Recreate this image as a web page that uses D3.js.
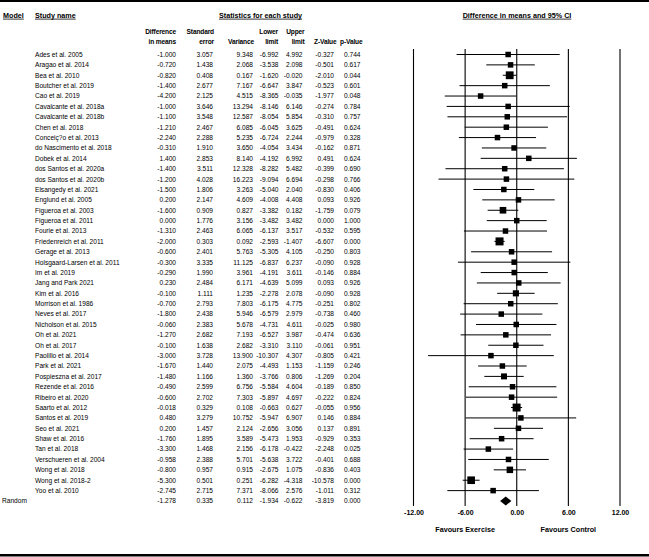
<!DOCTYPE html>
<html lang="en">
<head>
<meta charset="utf-8">
<script src="https://d3js.org/d3.v7.min.js"></script>
<style>
  body { margin: 0; background: #fff; }
  svg text { font-family: "Liberation Sans", Arial, sans-serif; fill: #000; }
  .cell { font-size: 6.6px; }
  .head { font-size: 7.2px; font-weight: bold; }
  .colhead { font-size: 6.6px; font-weight: bold; letter-spacing: -0.15px; }
</style>
</head>
<body>
<script>
// study rows, as printed in the table
const studyNames = [
  "Ades et al. 2005", "Aragao et al. 2014", "Bea et al. 2010", "Boutcher et al. 2019",
  "Cao et al. 2019", "Cavalcante et al. 2018a", "Cavalcante et al. 2018b", "Chen et al. 2018",
  "Conceiç?o et al. 2013", "do Nascimento et al. 2018", "Dobek et al. 2014", "dos Santos et al. 2020a",
  "dos Santos et al. 2020b", "Elsangedy et al. 2021", "Englund et al. 2005", "Figueroa et al. 2003",
  "Figueroa et al. 2011", "Fourie et al. 2013", "Friedenreich et al. 2011", "Gerage et al. 2013",
  "Holsgaard-Larsen et al. 2011", "Im et al. 2019", "Jang and Park 2021", "Kim et al. 2016",
  "Morrison et al. 1986", "Neves et al. 2017", "Nicholson et al. 2015", "Oh et al. 2021",
  "Oh et al. 2017", "Paolillo et al. 2014", "Park et al. 2021", "Pospieszna et al. 2017",
  "Rezende et al. 2016", "Ribeiro et al. 2020", "Saarto et al. 2012", "Santos et al. 2019",
  "Seo et al. 2021", "Shaw et al. 2016", "Tan et al. 2018", "Verschueren et al. 2004",
  "Wong et al. 2018", "Wong et al. 2018-2", "Yoo et al. 2010"
];
const diffs = [
  -1.000, -0.720, -0.820, -1.400, -4.200, -1.000, -1.100, -1.210, -2.240, -0.310, 1.400,
  -1.400, -1.200, -1.500, 0.200, -1.600, 0.000, -1.310, -2.000, -0.600, -0.300, -0.290,
  0.230, -0.100, -0.700, -1.800, -0.060, -1.270, -0.100, -3.000, -1.670, -1.480, -0.490,
  -0.600, -0.018, 0.480, 0.200, -1.760, -3.300, -0.958, -0.800, -5.300, -2.745
];
const stdErrs = [
  3.057, 1.438, 0.408, 2.677, 2.125, 3.646, 3.548, 2.467, 2.288, 1.910, 2.853,
  3.511, 4.028, 1.806, 2.147, 0.909, 1.776, 2.463, 0.303, 2.401, 3.335, 1.990,
  2.484, 1.111, 2.793, 2.438, 2.383, 2.682, 1.638, 3.728, 1.440, 1.166, 2.599,
  2.702, 0.329, 3.279, 1.457, 1.895, 1.468, 2.388, 0.957, 0.501, 2.715
];
const variances = [
  9.348, 2.068, 0.167, 7.167, 4.515, 13.294, 12.587, 6.085, 5.235, 3.650, 8.140,
  12.328, 16.223, 3.263, 4.609, 0.827, 3.156, 6.065, 0.092, 5.763, 11.125, 3.961,
  6.171, 1.235, 7.803, 5.946, 5.678, 7.193, 2.682, 13.900, 2.075, 1.360, 6.756,
  7.303, 0.108, 10.752, 2.124, 3.589, 2.156, 5.701, 0.915, 0.251, 7.371
];
const lowerLimits = [
  -6.992, -3.538, -1.620, -6.647, -8.365, -8.146, -8.054, -6.045, -6.724, -4.054, -4.192,
  -8.282, -9.094, -5.040, -4.008, -3.382, -3.482, -6.137, -2.593, -5.305, -6.837, -4.191,
  -4.639, -2.278, -6.175, -6.579, -4.731, -6.527, -3.310, -10.307, -4.493, -3.766, -5.584,
  -5.897, -0.663, -5.947, -2.656, -5.473, -6.178, -5.638, -2.675, -6.282, -8.066
];
const upperLimits = [
  4.992, 2.098, -0.020, 3.847, -0.035, 6.146, 5.854, 3.625, 2.244, 3.434, 6.992,
  5.482, 6.694, 2.040, 4.408, 0.182, 3.482, 3.517, -1.407, 4.105, 6.237, 3.611,
  5.099, 2.078, 4.775, 2.979, 4.611, 3.987, 3.110, 4.307, 1.153, 0.806, 4.604,
  4.697, 0.627, 6.907, 3.056, 1.953, -0.422, 3.722, 1.075, -4.318, 2.576
];
const zValues = [
  -0.327, -0.501, -2.010, -0.523, -1.977, -0.274, -0.310, -0.491, -0.979, -0.162, 0.491,
  -0.399, -0.298, -0.830, 0.093, -1.759, 0.000, -0.532, -6.607, -0.250, -0.090, -0.146,
  0.093, -0.090, -0.251, -0.738, -0.025, -0.474, -0.061, -0.805, -1.159, -1.269, -0.189,
  -0.222, -0.055, 0.146, 0.137, -0.929, -2.248, -0.401, -0.836, -10.578, -1.011
];
const pValues = [
  0.744, 0.617, 0.044, 0.601, 0.048, 0.784, 0.757, 0.624, 0.328, 0.871, 0.624,
  0.690, 0.766, 0.406, 0.926, 0.079, 1.000, 0.595, 0.000, 0.803, 0.928, 0.884,
  0.926, 0.928, 0.802, 0.460, 0.980, 0.636, 0.951, 0.421, 0.246, 0.204, 0.850,
  0.824, 0.956, 0.884, 0.891, 0.353, 0.025, 0.688, 0.403, 0.000, 0.312
];

// pooled random-effects row
const randomLabel = "Random";
const randomStats = [-1.278, 0.335, 0.112, -1.934, -0.622, -3.819, 0.000];

const axisTicks = [-12, -6, 0, 6, 12];
const tau2 = 1.5; // between-study variance used only for square sizes

const W = 649, H = 557;
const svg = d3.select("body").append("svg")
  .attr("width", W)
  .attr("height", H);

// frame lines top and bottom
svg.append("rect").attr("x", 0).attr("y", 0).attr("width", W).attr("height", 2).attr("fill", "#000");
svg.append("rect").attr("x", 0).attr("y", 554).attr("width", W).attr("height", 2.5).attr("fill", "#000");

const rowKeys = studyNames.concat([randomLabel]);
const y = d3.scalePoint().domain(rowKeys).range([54.5, 501]);
const x = d3.scaleLinear().domain([-12, 12]).range([413.5, 620]).clamp(true);

// underlined header helper
function header(txt, xPos, yPos, anchor) {
  const t = svg.append("text")
    .attr("class", "head")
    .attr("x", xPos).attr("y", yPos)
    .attr("text-anchor", anchor || "start")
    .text(txt);
  const bb = t.node().getBBox();
  svg.append("line")
    .attr("x1", bb.x).attr("x2", bb.x + bb.width)
    .attr("y1", yPos + 1.6).attr("y2", yPos + 1.6)
    .attr("stroke", "#000").attr("stroke-width", 0.8);
}
header("Model", 3, 17.5);
header("Study name", 35, 17.5);
header("Statistics for each study", 260.5, 17.5, "middle");
header("Difference in means and 95% CI", 517, 17.5, "middle");

// column headers (two lines, right aligned)
const colHeads = [
  { l1: "Difference", l2: "in means", x: 176 },
  { l1: "Standard", l2: "error", x: 214 },
  { l1: "", l2: "Variance", x: 254 },
  { l1: "Lower", l2: "limit", x: 278 },
  { l1: "Upper", l2: "limit", x: 304.5 },
  { l1: "", l2: "Z-Value", x: 336.5 },
  { l1: "", l2: "p-Value", x: 362.5 }
];
colHeads.forEach(c => {
  svg.append("text").attr("class", "colhead").attr("x", c.x).attr("y", 33.5)
    .attr("text-anchor", "end").text(c.l1);
  svg.append("text").attr("class", "colhead").attr("x", c.x).attr("y", 43.5)
    .attr("text-anchor", "end").text(c.l2);
});

// table body
const colRight = [176, 213, 253, 278.5, 302.5, 334, 360.5];
const rows = studyNames.map((n, i) => ({
  name: n,
  stats: [diffs[i], stdErrs[i], variances[i], lowerLimits[i], upperLimits[i], zValues[i], pValues[i]]
}));
const allRows = rows.concat([{ name: randomLabel, stats: randomStats }]);

const rowG = svg.append("g").selectAll("g")
  .data(allRows)
  .join("g")
  .attr("transform", d => "translate(0," + (y(d.name) + 2.4) + ")");

rowG.append("text")
  .attr("class", "cell")
  .attr("x", d => d.name === randomLabel ? 2 : 35)
  .text(d => d.name);

rowG.selectAll("text.num")
  .data(d => d.stats)
  .join("text")
  .attr("class", "cell num")
  .attr("x", (d, j) => colRight[j])
  .attr("text-anchor", "end")
  .text(d => d.toFixed(3));

// vertical reference lines
svg.append("g").selectAll("line")
  .data(axisTicks)
  .join("line")
  .attr("x1", d => x(d)).attr("x2", d => x(d))
  .attr("y1", 49).attr("y2", 506)
  .attr("stroke", "#000").attr("stroke-width", 1.1);

// confidence intervals
const weights = variances.map(v => 1 / (v + tau2));
const sizeScale = d3.scaleSqrt().domain([0, d3.max(weights)]).range([0, 8]);
const side = i => Math.max(5.5, sizeScale(weights[i]));

const plotG = svg.append("g");
plotG.selectAll("line.ci")
  .data(rows)
  .join("line")
  .attr("class", "ci")
  .attr("x1", d => x(d.stats[3])).attr("x2", d => x(d.stats[4]))
  .attr("y1", d => y(d.name)).attr("y2", d => y(d.name))
  .attr("stroke", "#000").attr("stroke-width", 1);

plotG.selectAll("rect")
  .data(rows)
  .join("rect")
  .attr("x", (d, i) => x(d.stats[0]) - side(i) / 2)
  .attr("y", (d, i) => y(d.name) - side(i) / 2)
  .attr("width", (d, i) => side(i))
  .attr("height", (d, i) => side(i))
  .attr("fill", "#000");

// pooled diamond
const ry = y(randomLabel);
plotG.append("path")
  .attr("d", "M" + x(randomStats[3]) + "," + ry +
    "L" + x(randomStats[0]) + "," + (ry - 4.5) +
    "L" + x(randomStats[4]) + "," + ry +
    "L" + x(randomStats[0]) + "," + (ry + 4.5) + "Z")
  .attr("fill", "#000");

// x axis labels
const axisG = svg.append("g")
  .attr("transform", "translate(0,508)")
  .call(d3.axisBottom(x).tickValues(axisTicks).tickFormat(d => d.toFixed(2)).tickSize(0).tickPadding(2));
axisG.select(".domain").remove();
axisG.selectAll("text")
  .attr("font-family", "Liberation Sans, Arial, sans-serif")
  .attr("font-size", 7)
  .attr("font-weight", "bold");

svg.append("text").attr("class", "head")
  .attr("x", x(-6)).attr("y", 531.5).attr("text-anchor", "middle")
  .text("Favours Exercise");
svg.append("text").attr("class", "head")
  .attr("x", x(6)).attr("y", 531.5).attr("text-anchor", "middle")
  .text("Favours Control");
</script>
</body>
</html>
